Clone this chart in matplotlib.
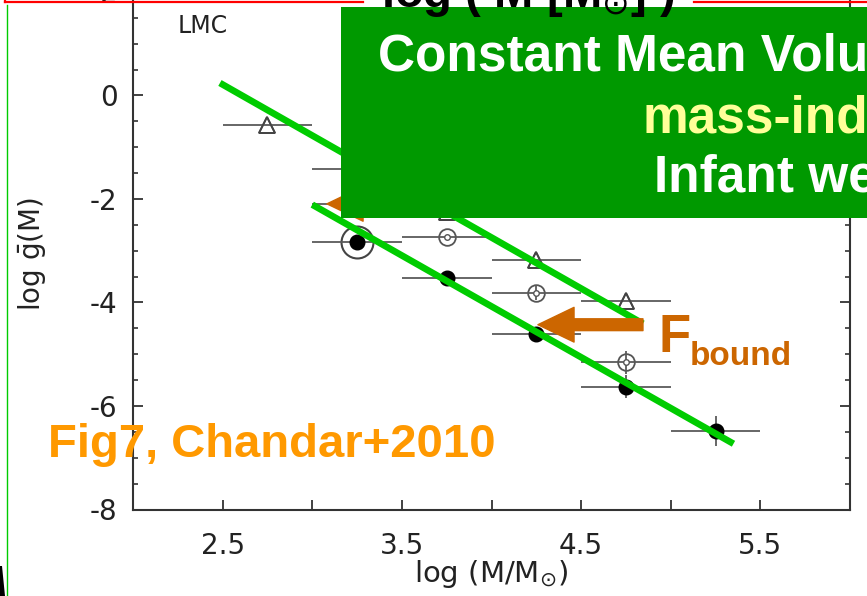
import matplotlib
matplotlib.use("Agg")
import matplotlib.pyplot as plt
from matplotlib.patches import Rectangle, FancyArrowPatch, Polygon
from matplotlib.lines import Line2D
from matplotlib.ticker import FixedLocator, MultipleLocator

plt.rcParams["axes.unicode_minus"] = False

# ---- binned cluster mass function in the LMC (log M vs log g(M)) ----
tri_x = [2.75, 3.25, 3.75, 4.25, 4.75]
tri_y = [-0.57, -1.42, -2.25, -3.18, -3.97]

ring_x = [3.25, 3.75, 4.25, 4.75]
ring_y = [-2.10, -2.74, -3.81, -5.16]
ring_yerr = [0.0, 0.0, 0.14, 0.23]

dot_x = [3.25, 3.75, 4.25, 4.75, 5.25]
dot_y = [-2.84, -3.52, -4.60, -5.63, -6.48]
dot_yerr = [0.0, 0.0, 0.0, 0.22, 0.29]

halo_x = [3.25]
halo_y = [-2.84]

bin_half_width = 0.25

x_major = [2.5, 3.5, 4.5, 5.5]
x_minor = [3.0, 4.0, 5.0]
y_major = [-8, -6, -4, -2, 0, 2]

# ---- overlaid guide lines and arrows (data units) ----
upper_guide_x = [2.485, 4.845]
upper_guide_y = [0.24, -4.41]
lower_guide_x = [3.00, 5.35]
lower_guide_y = [-2.11, -6.73]

arrow_main_tail = (4.845, -4.43)
arrow_main_tip = (4.259, -4.43)
arrow_hidden_tail = (3.80, -2.095)
arrow_hidden_tip = (3.082, -2.095)

W, H = 867, 596
fig = plt.figure(figsize=(W / 100, H / 100), dpi=100)
fig.patch.set_facecolor("white")


def fx(px):
    return px / W


def fy(py):
    return 1 - py / H


scan_font = "DejaVu Sans"
ink = "#222222"
bar_col = "#5a5a5a"

ax = fig.add_axes([fx(133), fy(509.5), fx(850) - fx(133), (509.5 + 34) / H])
ax.set_xlim(2.0, 6.0)
ax.set_ylim(-8, 2.5)

# open markers sit under the error bars so the bars cross through them
ax.plot(tri_x, tri_y, linestyle="none", marker="^", ms=12, mfc="white",
        mec="#444444", mew=1.3, zorder=2)
ax.plot(ring_x, ring_y, linestyle="none", marker="o", ms=12, mfc="white",
        mec="#555555", mew=1.3, zorder=2)
ax.plot(halo_x, halo_y, linestyle="none", marker="o", ms=23, mfc="white",
        mec="#444444", mew=1.5, zorder=2)

# error bars
ax.errorbar(tri_x, tri_y, xerr=bin_half_width, fmt="none", ecolor=bar_col,
            elinewidth=1.3, capsize=0, zorder=2.5)
ax.errorbar(ring_x, ring_y, xerr=bin_half_width, yerr=ring_yerr, fmt="none",
            ecolor=bar_col, elinewidth=1.3, capsize=0, zorder=2.5)
ax.errorbar(dot_x, dot_y, xerr=bin_half_width, yerr=dot_yerr, fmt="none",
            ecolor=bar_col, elinewidth=1.3, capsize=0, zorder=2.5)

# re-draw the triangle outlines and inner rings on top
ax.plot(tri_x, tri_y, linestyle="none", marker="^", ms=12, mfc="none",
        mec="#444444", mew=1.3, zorder=3)
ax.plot(ring_x, ring_y, linestyle="none", marker="o", ms=4, mfc="white",
        mec="#555555", mew=1.0, zorder=4)
ax.plot(dot_x, dot_y, linestyle="none", marker="o", ms=10.5, mfc="black",
        mec="black", zorder=4)

# axes styling
for side in ["left", "right", "bottom", "top"]:
    ax.spines[side].set_color("#333333")
    ax.spines[side].set_linewidth(1.5)
ax.xaxis.set_major_locator(FixedLocator(x_major))
ax.xaxis.set_minor_locator(FixedLocator(x_minor))
ax.yaxis.set_major_locator(FixedLocator(y_major))
ax.yaxis.set_minor_locator(MultipleLocator(0.5))
ax.tick_params(axis="both", which="both", direction="in", top=True, right=True,
               colors="#333333", labelcolor=ink)
ax.tick_params(axis="x", which="both", length=7, width=1.3, pad=16,
               labelsize=20)
ax.tick_params(axis="y", which="major", length=7, width=1.3, pad=11,
               labelsize=20)
ax.tick_params(axis="y", which="minor", length=3.5, width=1.2)
for lab in ax.get_xticklabels() + ax.get_yticklabels():
    lab.set_fontfamily(scan_font)

ax.set_xlabel(r"log (M/M$_{\odot}$)", fontsize=21, family=scan_font, color=ink)
ax.xaxis.set_label_coords(0.5, -0.089)
ax.set_ylabel(r"log $\bar{\rm g}$(M)", fontsize=20, family=scan_font, color=ink)
ax.yaxis.set_label_coords(-0.118, 0.47)
ax.text(fx(178 - 133) / (fx(850) - fx(133)), (509.5 - 33) / (509.5 + 34), "LMC",
        transform=ax.transAxes, fontsize=17, family=scan_font, color=ink,
        ha="left", va="baseline")

# green guide lines
ax.plot(upper_guide_x, upper_guide_y, color="#00cc00", lw=4.8,
        solid_capstyle="butt", zorder=6)
ax.plot(lower_guide_x, lower_guide_y, color="#00cc00", lw=4.8,
        solid_capstyle="butt", zorder=6)

# orange arrows
arrow_kw = dict(arrowstyle="simple,head_length=0.52,head_width=0.5,tail_width=0.17",
                mutation_scale=50, color="#cc6600", shrinkA=0, shrinkB=0,
                zorder=7)
ax.add_patch(FancyArrowPatch(arrow_hidden_tail, arrow_hidden_tip, **arrow_kw))
ax.add_patch(FancyArrowPatch(arrow_main_tail, arrow_main_tip, **arrow_kw))

# ---- slide overlays ----
ov = fig.transFigure
fig.add_artist(Rectangle((fx(341), fy(218)), 1.0, fy(7) - fy(218),
                         transform=ov, facecolor="#009900", edgecolor="none",
                         zorder=10))
bold = "Liberation Sans"
fig.text(fx(378), fy(71), "Constant Mean Volume Density", color="white",
         fontsize=37, fontweight="bold", family=bold, ha="left", va="baseline",
         zorder=11)
fig.text(fx(643), fy(133), "mass-independent", color="#ffff99",
         fontsize=37, fontweight="bold", family=bold, ha="left", va="baseline",
         zorder=11)
fig.text(fx(654), fy(192), "Infant weight loss", color="white",
         fontsize=37, fontweight="bold", family=bold, ha="left", va="baseline",
         zorder=11)

fig.text(fx(658), fy(352), "F", color="#cc6600", fontsize=38,
         fontweight="bold", family=bold, ha="left", va="baseline", zorder=11)
fig.text(fx(690), fy(365), "bound", color="#cc6600", fontsize=24,
         fontweight="bold", family=bold, ha="left", va="baseline", zorder=11)
fig.text(fx(48), fy(457), "Fig7, Chandar+2010", color="#ff9900", fontsize=34,
         fontweight="bold", family=bold, ha="left", va="baseline", zorder=11)

fig.text(fx(528), fy(7), r"log ( M [M$_{\odot}$] )", color="black",
         fontsize=34, fontweight="bold", family=bold, ha="center",
         va="baseline", zorder=11)

# frame edges of the slide
fig.add_artist(Line2D([fx(5), fx(363)], [fy(2), fy(2)], transform=ov,
                      color="red", lw=1.6, zorder=12))
fig.add_artist(Line2D([fx(694), fx(867)], [fy(2), fy(2)], transform=ov,
                      color="red", lw=1.6, zorder=12))
fig.add_artist(Line2D([fx(5), fx(5)], [fy(0), fy(2)], transform=ov,
                      color="red", lw=1.6, zorder=12))
fig.add_artist(Line2D([fx(7), fx(7)], [fy(5), fy(596)], transform=ov,
                      color="#00cc00", lw=1.0, zorder=12))
fig.add_artist(Polygon([(fx(0), fy(566)), (fx(2), fy(566)), (fx(5), fy(596)),
                        (fx(0), fy(596))], closed=True, transform=ov,
                       facecolor="black", edgecolor="none", zorder=12))

fig.savefig("out.png", dpi=100, facecolor="white")
